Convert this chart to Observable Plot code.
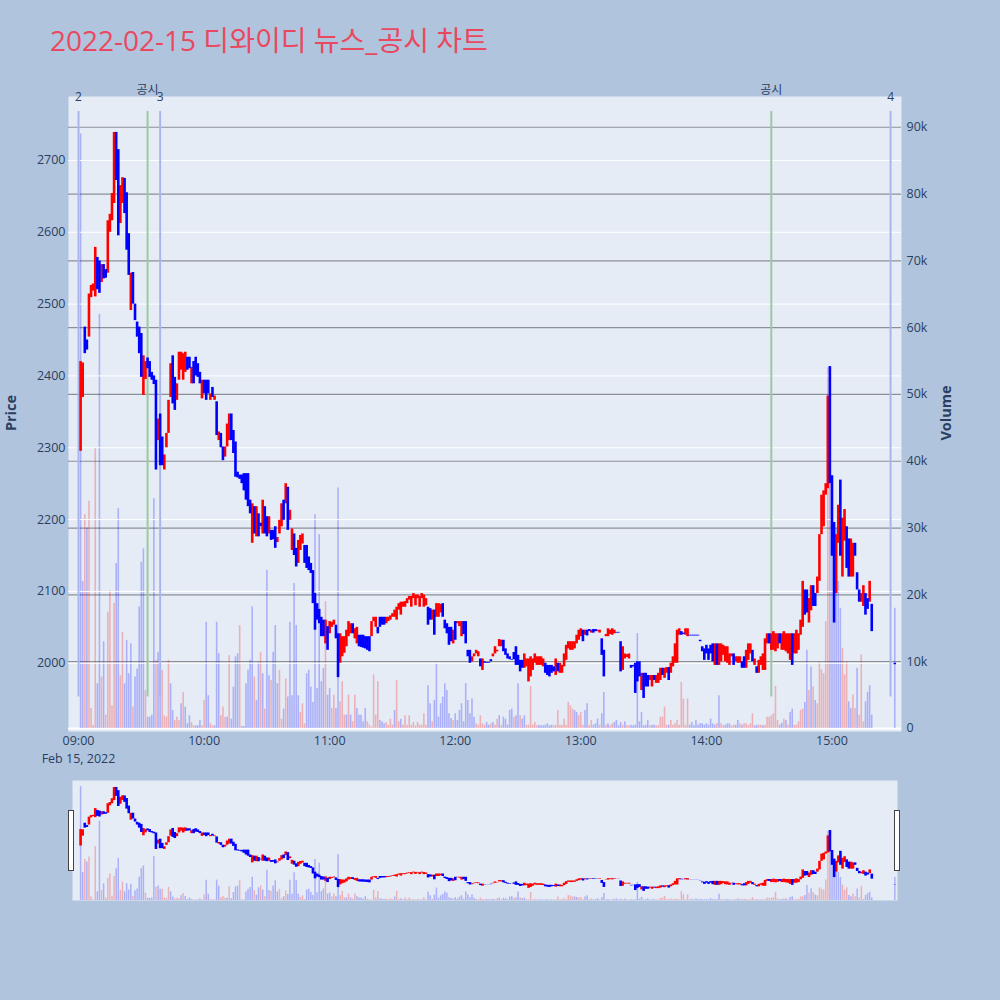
<!DOCTYPE html>
<html>
<head>
<meta charset="utf-8">
<script src="https://cdn.jsdelivr.net/npm/d3@7"></script>
<script src="https://cdn.jsdelivr.net/npm/@observablehq/plot@0.6"></script>
<style>
  body { margin: 0; background: #b0c4de; }
  #wrap { position: relative; width: 1000px; height: 1000px; font-family: "Open Sans", "Noto Sans CJK KR", sans-serif; color: #2a3f5f; }
  .layer { position: absolute; left: 0; }
  .layer svg { overflow: visible; }
  #title { position: absolute; left: 50px; top: 19px; font-size: 28px; color: #e9495f; white-space: nowrap; }
  .ytitle { position: absolute; font-size: 14.5px; font-weight: bold; transform: translate(-50%, -50%) rotate(-90deg); }
  .handle { position: absolute; top: 810px; width: 4px; height: 59px; background: #fff; border: 1px solid #444; }
</style>
</head>
<body>
<div id="wrap">
  <div id="title">2022-02-15 디와이디 뉴스_공시 차트</div>
  <div class="layer" id="mainVol" style="top:60px"></div>
  <div class="layer" id="mainPrice" style="top:60px"></div>
  <div class="ytitle" style="left:10px; top:413px">Price</div>
  <div class="ytitle" style="left:945px; top:413px">Volume</div>
  <div class="layer" id="sliderVol" style="top:780px"></div>
  <div class="layer" id="sliderPrice" style="top:780px"></div>
  <div class="handle" style="left:68px"></div>
  <div class="handle" style="left:894px"></div>
</div>
<script>
// 1분봉 시가 (09:01 ~ 15:19)
const opens = [
  2295,2370,2468,2450,2454,2509,2518,2510,2565,2560, // 09:01
  2530,2555,2548,2543,2600,2616,2640,2739,2715,2612,
  2640,2675,2655,2598,2491,2544,2500,2475,2468,2459,
  2373,2395,2425,2420,2405,2400,2394,2310,2347,2315,
  2269,2300,2320,2370,2428,2398,2366,2394,2408,2394,
  2405,2426,2426,2389,2420,2426,2417,2405,2368,2394,
  2394,2394,2366,2384,2366,2364,2310,2320,2301,2287, // 10:01
  2301,2310,2347,2324,2308,2266,2262,2262,2264,2264,
  2264,2227,2167,2218,2176,2208,2195,2180,2218,2204,
  2180,2185,2185,2190,2168,2180,2190,2227,2222,2245,
  2199,2157,2180,2160,2139,2157,2166,2164,2164,2148,
  2139,2129,2097,2083,2075,2064,2060,2027,2051,2041,
  2050,2053,2053,2041,2000,2009,2014,2023,2037,2041, // 11:01
  2055,2034,2027,2039,2039,2039,2037,2037,2037,2037,
  2058,2050,2050,2064,2064,2064,2055,2058,2060,2064,
  2064,2060,2074,2067,2078,2078,2083,2088,2078,2090,
  2080,2090,2078,2090,2078,2080,2078,2076,2060,2074,
  2064,2064,2070,2083,2060,2055,2050,2050,2027,2058,
  2055,2051,2037,2058,2058,2018,2018,2002,2009,2013, // 12:01
  2009,2006,1990,2002,2001,2001,2005,2009,2013,2016,
  2023,2023,2032,2020,2013,2009,2005,2015,2023,2011,
  2004,2004,1993,1995,1974,1981,1990,2000,1997,1997,
  1997,1995,2000,1997,1997,1997,1995,1983,2000,1986,
  1986,1995,2004,2020,2018,2018,2020,2027,2032,2037,
  2046,2039,2046,2047,2042,2047,2047,2044,2042,2034, // 13:01
  2018,2037,2037,2040,2039,2041,2043,2043,2030,1990,
  2006,2008,2006,1997,1997,2000,2002,2002,1962,1986,
  1986,1983,1976,1967,1983,1972,1972,1976,1993,1979,
  1986,1994,1986,1995,2000,2000,2039,2044,2042,2039,
  2037,2039,2039,2039,2039,2039,2032,2023,2020,2025,
  2020,2025,2027,1997,2027,1997,2002,2011,2002,2000, // 14:01
  1997,2009,2013,2002,2000,2000,2002,2009,1993,2004,
  2013,2018,1997,1995,1986,1997,1990,1990,2027,2041,
  2018,2018,2016,2020,2041,2018,2018,2016,2013,2004,
  2041,2013,2013,2018,2039,2050,2102,2102,2056,2073,
  2108,2097,2097,2114,2179,2190,2234,2243,2413,2261,
  2196,2097,2167,2255,2120,2170,2190,2173,2120,2120, // 15:01
  2167,2126,2102,2085,2079,2097,2090,2085,2082
];

// 1분봉 종가
const closes = [
  2420,2418,2431,2436,2514,2526,2528,2579,2520,2515,
  2555,2535,2536,2616,2625,2654,2739,2672,2595,2665,
  2676,2626,2575,2540,2543,2500,2477,2454,2431,2398,
  2428,2420,2410,2398,2394,2388,2269,2340,2275,2275,
  2290,2320,2366,2417,2361,2352,2389,2433,2433,2431,
  2433,2408,2410,2412,2389,2400,2398,2389,2394,2375,
  2366,2375,2375,2370,2372,2317,2322,2300,2282,2301,
  2333,2347,2310,2292,2259,2258,2256,2250,2240,2227,
  2218,2208,2222,2180,2218,2176,2190,2227,2180,2176,
  2204,2171,2172,2160,2175,2199,2222,2199,2250,2185,
  2213,2187,2150,2134,2171,2178,2180,2139,2132,2129,
  2125,2083,2046,2060,2055,2037,2037,2060,2018,2058,
  2057,2060,2034,1980,2041,2037,2037,2046,2058,2055,
  2041,2048,2050,2023,2022,2021,2020,2018,2016,2058,
  2064,2064,2041,2050,2053,2053,2064,2064,2066,2069,
  2074,2078,2083,2085,2085,2086,2090,2093,2093,2097,
  2095,2095,2093,2097,2095,2090,2053,2060,2074,2039,
  2083,2083,2082,2064,2048,2041,2025,2030,2046,2032,
  2058,2058,2058,2040,2027,2009,2000,2009,2013,2018,
  2016,1995,2006,2000,2000,2000,2002,2013,2023,2018,
  2033,2032,2016,2011,2006,2005,2004,2005,1997,1997,
  1988,1993,2013,2006,2006,2009,2006,2013,2009,2009,
  2009,2006,1986,1983,1981,1986,1988,2006,1988,2000,
  1997,2013,2025,2030,2030,2030,2030,2039,2046,2048,
  2030,2046,2038,2044,2046,2042,2044,2046,2046,2011,
  1981,2040,2048,2046,2048,2046,2042,2042,1988,2023,
  2013,2012,2013,1993,1995,1958,1974,1981,1986,1951,
  1967,1967,1983,1983,1976,1983,1986,1993,1983,1993,
  1994,1976,2000,2009,2027,2046,2048,2039,2040,2048,
  2048,2038,2038,2038,2038,2038,2030,2016,2004,2013,
  2004,2013,2002,2027,1997,2027,2027,2025,2023,2023,
  2013,2013,1997,2009,2009,2009,1993,1993,2018,2027,
  2027,2002,2006,1986,2004,2009,2013,2034,2041,2027,
  2041,2044,2041,2041,2027,2041,2044,2041,2041,2041,
  1997,2041,2046,2041,2060,2114,2067,2070,2090,2108,
  2079,2079,2120,2179,2234,2240,2250,2372,2250,2149,
  2056,2179,2220,2149,2202,2214,2132,2120,2173,2167,
  2149,2102,2085,2097,2108,2067,2075,2114,2044
];

// 거래량 (천 주), 음수 = 파랑 막대
const volumes = [
  -89,-22,32,-30,34,3,0.5,42,-6.7,-62,
  7.7,-13,2,17.4,20.6,3.4,18.7,-24.7,-32.9,7.9,
  14.4,-6.7,-13.2,-8.2,-12.7,3.2,-7.7,-8.9,-18.2,-24.9,
  -26.9,5.7,-1.7,-1.7,-2,-34.4,10.2,-11.4,-8.7,8.7,
  1.9,1.7,10.2,-6.7,-2.7,1.2,1.7,1.2,-3.7,5.4,
  -3.2,-0.7,-1.9,0.9,0.4,-0.4,-0.4,-1.2,0.4,4.2,
  -15.9,-4.9,0.7,0.4,-0.4,-15.9,-11.2,1.9,3.2,1.7,
  -1.7,10.9,-1.4,-6.2,-10.7,-11.2,15.4,-0.3,-0.3,-6.7,
  -8.7,-10.2,-18.2,7.7,-4.2,-9.9,11.4,-8.2,2.9,-23.7,
  -7.9,7.2,-11.4,-15.4,-6.7,8.7,1.4,-2.9,7.4,-4.7,
  -15.9,-4.9,-21.7,-15.4,-4.9,2.4,3.7,0.7,-8.2,-8.7,
  -6.2,-3.9,-32,-6,-29,-7,-9,19,-5,-6,
  3,5,-3,-36,4,7,2,-2,5,-2,
  1,5,-3,-2,-2,-1,-3,1,0.5,0.2,
  8,2,7,-1.2,-1,-0.7,0.9,0.5,1.4,0.5,
  -2.7,7.2,1,-1.4,0.5,1.9,0.5,1.9,0.5,0.9,
  0.4,0.9,0.5,0.5,2.2,0.5,-6.4,-3.7,1,-4.2,
  -9.7,-1.7,-3.7,-4.7,-6.7,-5.7,-2.2,-1.5,1.2,-2.2,
  -1.2,-2.7,-3.7,-1,-6.7,-4.2,-2.2,-4.4,-1.7,0.7,
  0.5,1.9,0.7,0.5,-0.9,-0.5,0.7,-0.9,0.5,1.4,
  -1.9,0.5,-1.7,-1.4,-0.5,-2.7,-2.9,1.7,-1.9,-6.7,
  1.9,-1.4,-1.9,0.5,0.5,6.3,0.5,0.9,0.4,-0.5,
  -0.4,-0.4,-0.5,-0.7,-0.4,-0.5,0.4,0.5,2.7,0.5,
  0.5,1.4,0.5,3.9,3.4,2.9,-2.7,-2.4,1.9,2.4,
  0.5,-2.7,-3.7,0.5,1.2,-0.5,-0.7,-1.4,0.5,-2.2,
  -5.4,0.5,-0.7,0.4,0.7,-0.9,-1.2,-0.4,-0.9,0.5,
  -1,0.4,0.4,-0.5,-0.4,-0.5,-14.2,-1,-2.4,-0.4,
  -0.5,-1.2,0.4,-0.5,-0.5,0.4,0.4,1.7,1.7,3.2,
  0.5,-0.5,1.2,0.5,0.7,1.2,0.5,6.9,4.4,0.5,
  4.4,-0.5,-0.9,-0.4,-1.2,-0.5,-0.7,-0.7,-0.5,-0.7,
  -0.5,-1.4,-0.7,-0.5,0.7,-4.9,0.7,0.4,-0.5,-0.7,
  -0.7,0.4,0.5,-0.5,-1.2,0.7,-0.5,0.7,0.7,0.4,
  0.7,2.2,-0.4,-0.5,0.5,0.5,-0.4,0.5,1.7,1.7,
  1.9,2.2,6.3,1.2,-0.5,-0.8,1.4,-1.2,0.5,-2.4,
  -2.9,0.5,0.5,1,2.7,2.9,-3.9,-11.7,5.7,-9.2,
  6.2,-4.2,3.7,9.9,8.8,8.2,16,54,-40,-33,
  -29,-30,-22,-18,12,8,10,-4,-3,5,
  3,-9,2,11,1,-4,-5.4,-6.4,-2
];

// 15:30 종가 단일가
const auction = { time: "15:30", open: 2000, close: 1998, volume: -18 };

const priceTicks = [2000, 2100, 2200, 2300, 2400, 2500, 2600, 2700];
const volumeTicks = [0, 10000, 20000, 30000, 40000, 50000, 60000, 70000, 80000, 90000];
const hourTicks = ["09:00", "10:00", "11:00", "12:00", "13:00", "14:00", "15:00"];

// 뉴스(번호) / 공시 표시선
const events = [
  { time: "09:00", label: "2", kind: "news" },
  { time: "09:33", label: "공시", kind: "notice" },
  { time: "09:39", label: "3", kind: "news" },
  { time: "14:31", label: "공시", kind: "notice" },
  { time: "15:28", label: "4", kind: "news" }
];

const at = (h, m, s = 0) => new Date(Date.UTC(2022, 1, 15, h, m, s));
const hm = str => { const [h, m] = str.split(":").map(Number); return at(h, m); };

const bars = opens.map((o, i) => ({ t: at(9, i + 1), open: o, close: closes[i], vol: volumes[i] }));
bars.push({ t: hm(auction.time), open: auction.open, close: auction.close, vol: auction.volume });
const up = d => d.close >= d.open;

const xDomain = [at(8, 55, 13), at(15, 33, 13)];
const sliderDomain = [at(8, 57, 8), at(15, 31, 16)];

const baseStyle = {
  background: "transparent",
  color: "#2a3f5f",
  fontFamily: "'Open Sans', 'Noto Sans CJK KR', sans-serif",
  fontSize: "12.5px",
  overflow: "visible"
};
const frameBox = { width: 1000, height: 720, marginTop: 36, marginBottom: 49, marginLeft: 68, marginRight: 99 };

const volMarks = (w) => [
  Plot.ruleX(bars, { filter: d => d.vol >= 0, x: "t", y1: 0, y2: d => d.vol * 1000, stroke: "#ff0000", strokeOpacity: 0.25, strokeWidth: w }),
  Plot.ruleX(bars, { filter: d => d.vol < 0, x: "t", y1: 0, y2: d => -d.vol * 1000, stroke: "#0000ff", strokeOpacity: 0.25, strokeWidth: w })
];
const candleMarks = (w) => [
  Plot.ruleX(bars, { filter: up, x: "t", y1: "open", y2: "close", stroke: "#ff0000", strokeWidth: w }),
  Plot.ruleX(bars, { filter: d => !up(d), x: "t", y1: "open", y2: "close", stroke: "#0000ff", strokeWidth: w })
];

// 거래량 (오른쪽 축)
const volumeChart = Plot.plot({
  ...frameBox,
  style: baseStyle,
  x: { type: "utc", domain: xDomain, axis: null },
  y: { axis: "right", domain: [-450, 94600], ticks: volumeTicks, tickFormat: d => d === 0 ? "0" : d / 1000 + "k", tickSize: 0, tickPadding: 5, label: null },
  marks: [
    Plot.frame({ fill: "#e5ecf6", stroke: "none" }),
    Plot.ruleY([0], { stroke: "white", strokeWidth: 2 }),
    Plot.ruleY(volumeTicks.slice(1), { stroke: "#8c9096", strokeWidth: 1.2 }),
    ...volMarks(1.6)
  ]
});

// 가격 캔들 (왼쪽 축)
const priceChart = Plot.plot({
  ...frameBox,
  style: baseStyle,
  x: { type: "utc", domain: xDomain, ticks: hourTicks.map(hm), tickFormat: d3.utcFormat("%H:%M"), tickSize: 0, tickPadding: 5, label: null },
  y: { domain: [1905, 2789], ticks: priceTicks, tickFormat: d => String(d), tickSize: 0, tickPadding: 3, label: null },
  marks: [
    Plot.ruleY(priceTicks, { stroke: "white", strokeWidth: 1 }),
    Plot.ruleX(events, { x: d => hm(d.time), y1: 1953, y2: 2768, stroke: d => d.kind === "notice" ? "#9cc9a0" : "#a9b6ee", strokeWidth: 2 }),
    ...candleMarks(2.6),
    Plot.text(events, { x: d => hm(d.time), y: d => d.kind === "notice" ? 2798 : 2788, text: "label", fontSize: 12, fill: "#2a3f5f" }),
    Plot.text(["Feb 15, 2022"], { x: () => hm("09:00"), frameAnchor: "bottom", dy: 31, text: d => d, fontSize: 12.5, fill: "#2a3f5f" })
  ]
});

// 레인지 슬라이더
const sliderBox = { width: 1000, height: 120, marginTop: 0, marginBottom: 0, marginLeft: 72, marginRight: 103, style: baseStyle };
const sliderVolume = Plot.plot({
  ...sliderBox,
  x: { type: "utc", domain: sliderDomain, axis: null },
  y: { domain: [0, 93700], axis: null },
  marks: [Plot.frame({ fill: "#e5ecf6", stroke: "none" }), ...volMarks(1.5)]
});
const sliderPrice = Plot.plot({
  ...sliderBox,
  x: { type: "utc", domain: sliderDomain, axis: null },
  y: { domain: [1882, 2792], axis: null },
  marks: [...candleMarks(2.6)]
});

d3.select("#mainVol").append(() => volumeChart);
d3.select("#mainPrice").append(() => priceChart);
d3.select("#sliderVol").append(() => sliderVolume);
d3.select("#sliderPrice").append(() => sliderPrice);
</script>
</body>
</html>
